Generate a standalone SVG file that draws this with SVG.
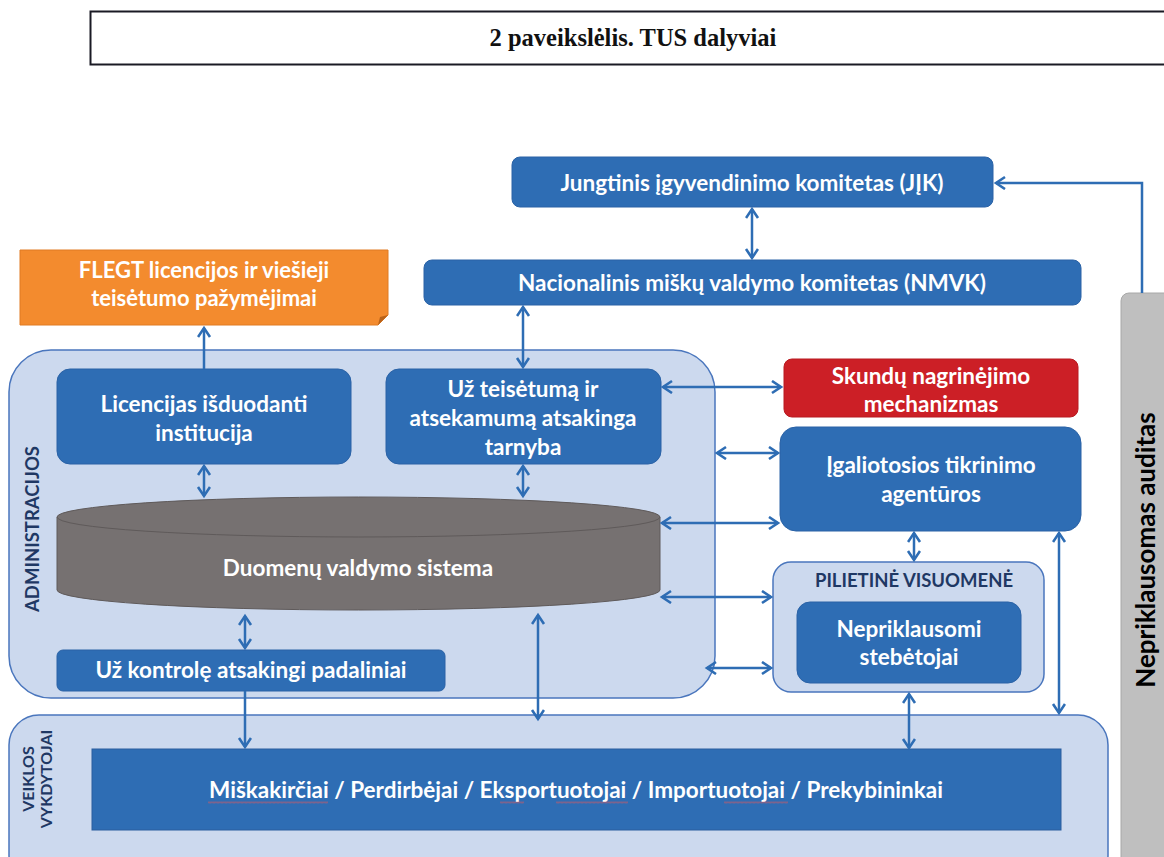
<svg xmlns="http://www.w3.org/2000/svg" width="1164" height="857" viewBox="0 0 1164 857">
<defs>
<marker id="ah" markerUnits="userSpaceOnUse" markerWidth="14" markerHeight="16" refX="10" refY="7" orient="auto-start-reverse" viewBox="0 0 14 16">
<path d="M1,1 L10,7 L1,13" fill="none" stroke="#2E6DB4" stroke-width="2.6" stroke-linejoin="miter"/>
</marker>
<pattern id="squig" width="4" height="3" patternUnits="userSpaceOnUse">
<path d="M0,2.5 L1,0.5 L2,2.5 L3,0.5 L4,2.5" fill="none" stroke="#E0555A" stroke-width="0.6"/>
</pattern>
<style>
.node{fill:#2E6DB4;stroke:#2A62A6;stroke-width:1}
.cont{fill:#CCD9EE;stroke:#4A76BD;stroke-width:1.5}
.t{font-family:Lato,"Liberation Sans",sans-serif;font-weight:bold;fill:#fff;text-anchor:middle;font-size:22.5px}
.lab{font-family:Lato,"Liberation Sans",sans-serif;font-weight:bold;fill:#1F3864;text-anchor:middle}
.c{stroke:#2E6DB4;stroke-width:2.5;fill:none}
.sq{fill:url(#squig);opacity:0.75}
</style>
</defs>
<rect width="1164" height="857" fill="#fff"/>

<g id="title">
<rect x="90.5" y="11.5" width="1080" height="53" fill="#fff" stroke="#1a1a24" stroke-width="2"/>
<text x="633" y="46" font-family="'Liberation Serif',serif" font-weight="bold" font-size="24.5" text-anchor="middle" fill="#111">2 paveikslėlis. TUS dalyviai</text>
</g>

<g id="audit">
<rect x="1121" y="293" width="60" height="580" rx="8" fill="#BFBFBF" stroke="#a8a8a8"/>
<text transform="translate(1155,550) rotate(-90)" font-family="Lato,'Liberation Sans',sans-serif" font-weight="bold" font-size="26" text-anchor="middle" fill="#000">Nepriklausomas auditas</text>
</g>

<g id="admin">
<rect class="cont" x="9" y="350" width="706" height="348" rx="42"/>
<text class="lab" transform="translate(39,529) rotate(-90)" font-size="18.5">ADMINISTRACIJOS</text>
</g>

<g id="veiklos">
<rect class="cont" x="9" y="715" width="1099" height="170" rx="30"/>
<text class="lab" transform="translate(34,779) rotate(-90)" font-size="16">VEIKLOS</text>
<text class="lab" transform="translate(52,779) rotate(-90)" font-size="16">VYKDYTOJAI</text>
</g>

<g id="flegt">
<path d="M20,250 H388 V315 L378,325 H20 Z" fill="#F38B2E" stroke="#E07A22" stroke-width="1"/>
<path d="M388,315 L378,325 L380,317 Z" fill="#B8621A"/>
<text class="t" x="204" y="278" style="font-size:22px">FLEGT licencijos ir viešieji</text>
<text class="t" x="204" y="306" style="font-size:22px">teisėtumo pažymėjimai</text>
</g>

<g id="jik">
<rect class="node" x="512" y="157" width="481" height="50" rx="8"/>
<text class="t" x="752" y="191">Jungtinis įgyvendinimo komitetas (JĮK)</text>
</g>

<g id="nmvk">
<rect class="node" x="424" y="260" width="657" height="45" rx="8"/>
<text class="t" x="752" y="291">Nacionalinis miškų valdymo komitetas (NMVK)</text>
</g>

<g id="licencijas">
<rect class="node" x="57" y="369" width="294" height="95" rx="13"/>
<text class="t" x="204" y="412">Licencijas išduodanti</text>
<text class="t" x="204" y="441">institucija</text>
</g>

<g id="tarnyba">
<rect class="node" x="386" y="369" width="275" height="95" rx="13"/>
<text class="t" x="523" y="397">Už teisėtumą ir</text>
<text class="t" x="523" y="426">atsekamumą atsakinga</text>
<text class="t" x="523" y="455">tarnyba</text>
</g>

<g id="skundu">
<rect x="784" y="359" width="294" height="58" rx="8" fill="#CC1F26" stroke="#b81a20"/>
<text class="t" x="931" y="384">Skundų nagrinėjimo</text>
<text class="t" x="931" y="412">mechanizmas</text>
</g>

<g id="igaliotosios">
<rect class="node" x="780" y="427" width="301" height="104" rx="16"/>
<text class="t" x="931" y="473">Įgaliotosios tikrinimo</text>
<text class="t" x="931" y="502">agentūros</text>
</g>

<g id="duomenu">
<path d="M57,517 V590 A301.5,20 0 0 0 660,590 V517" fill="#767171" stroke="#5f5a5a" stroke-width="1"/>
<ellipse cx="358.5" cy="517" rx="301.5" ry="20" fill="#767171" stroke="#5f5a5a" stroke-width="1"/>
<text class="t" x="358" y="576">Duomenų valdymo sistema</text>
</g>

<g id="kontrole">
<rect class="node" x="57" y="650" width="388" height="41" rx="6"/>
<text class="t" x="251" y="678">Už kontrolę atsakingi padaliniai</text>
</g>

<g id="pilietine">
<rect class="cont" x="773" y="562" width="271" height="130" rx="18"/>
<text class="lab" x="914" y="587" font-size="18.5">PILIETINĖ VISUOMENĖ</text>
</g>

<g id="stebetojai">
<rect class="node" x="797" y="602" width="224" height="81" rx="13"/>
<text class="t" x="909" y="637">Nepriklausomi</text>
<text class="t" x="909" y="665">stebėtojai</text>
</g>

<g id="vykdytojai">
<rect x="92" y="749" width="969" height="81" fill="#2E6DB4" stroke="#2A5E9E" stroke-width="1"/>
<text class="t" x="576" y="798">Miškakirčiai / Perdirbėjai / Eksportuotojai / Importuotojai / Prekybininkai</text>
<rect class="sq" x="208" y="801" width="120" height="3"/>
<rect class="sq" x="500" y="801" width="24" height="3"/>
<rect class="sq" x="556" y="801" width="72" height="3"/>
<rect class="sq" x="724" y="801" width="64" height="3"/>
</g>

<g id="connectors">
<line class="c" x1="752" y1="209" x2="752" y2="258" marker-start="url(#ah)" marker-end="url(#ah)"/>
<line class="c" x1="523" y1="307" x2="523" y2="367" marker-start="url(#ah)" marker-end="url(#ah)"/>
<line class="c" x1="204" y1="369" x2="204" y2="328" marker-end="url(#ah)"/>
<line class="c" x1="204" y1="466" x2="204" y2="496" marker-start="url(#ah)" marker-end="url(#ah)"/>
<line class="c" x1="523" y1="466" x2="523" y2="496" marker-start="url(#ah)" marker-end="url(#ah)"/>
<line class="c" x1="663" y1="387" x2="781" y2="387" marker-start="url(#ah)" marker-end="url(#ah)"/>
<line class="c" x1="717" y1="453" x2="778" y2="453" marker-start="url(#ah)" marker-end="url(#ah)"/>
<line class="c" x1="662" y1="523" x2="778" y2="523" marker-start="url(#ah)" marker-end="url(#ah)"/>
<line class="c" x1="662" y1="597" x2="771" y2="597" marker-start="url(#ah)" marker-end="url(#ah)"/>
<line class="c" x1="707" y1="668" x2="771" y2="668" marker-start="url(#ah)" marker-end="url(#ah)"/>
<line class="c" x1="914" y1="533" x2="914" y2="560" marker-start="url(#ah)" marker-end="url(#ah)"/>
<line class="c" x1="909" y1="694" x2="909" y2="748" marker-start="url(#ah)" marker-end="url(#ah)"/>
<line class="c" x1="1059" y1="533" x2="1059" y2="713" marker-start="url(#ah)" marker-end="url(#ah)"/>
<line class="c" x1="538" y1="615" x2="538" y2="719" marker-start="url(#ah)" marker-end="url(#ah)"/>
<line class="c" x1="245" y1="616" x2="245" y2="648" marker-start="url(#ah)" marker-end="url(#ah)"/>
<line class="c" x1="245" y1="691" x2="245" y2="747" marker-end="url(#ah)"/>
<polyline class="c" points="1142,293 1142,183 996,183" marker-end="url(#ah)"/>
</g>
</svg>
